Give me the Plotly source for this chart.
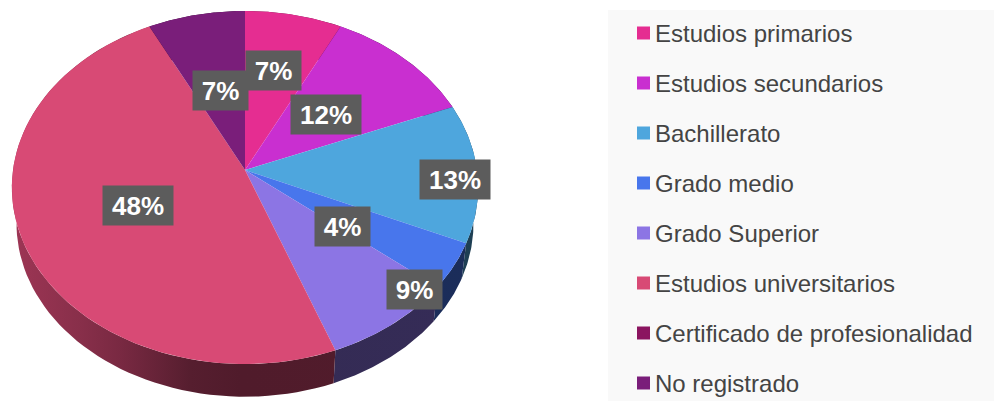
import numpy as np
import plotly.graph_objects as go

categories = ["Estudios primarios", "Estudios secundarios", "Bachillerato", "Grado medio",
              "Grado Superior", "Estudios universitarios", "Certificado de profesionalidad", "No registrado"]
values = [7.4, 11.5, 12.7, 4.2, 8.45, 48.35, 0.0, 7.4]
percent_labels = ["7%", "12%", "13%", "4%", "9%", "48%", "", "7%"]
colors = ["#E52D91", "#C92FD0", "#4EA6DD", "#4876EC", "#8C75E4", "#D84A75", "#8B1560", "#7A1E7A"]

# Perspective pie geometry (pixels, on hidden axes that span the page)
CX, CY, RX, RY, K = 245, 170, 232, 174.8, 0.099
BASE_SCALE, BASE_DROP = 0.98, 36.6
SHADE_X = [16, 80, 120, 190, 240, 480]
SHADE_F = [0.72, 0.63, 0.56, 0.40, 0.37, 0.38]
LABEL_CENTERS = [(273.5, 70.5), (326, 114.5), (455, 179.5), (342.5, 226.5),
                 (414.5, 289.5), (138, 205.5), None, (220.5, 90)]
KEY_X, KEY_TEXT_X, KEY_Y0, KEY_STEP = 643.5, 652.5, 33, 50


def rgb(h):
    return tuple(int(h[i:i + 2], 16) for i in (1, 3, 5))


def shaded(h, f):
    r, g, b = rgb(h)
    return f"rgb({r * f:.0f},{g * f:.0f},{b * f:.0f})"


def project(theta, scale=1.0, drop=0.0):
    u, v = np.sin(theta), -np.cos(theta)
    d = 1 - K * v
    return CX + scale * RX * u / d, CY + drop + scale * RY * v / d


fig = go.Figure()
fig.add_shape(type="rect", x0=608, x1=994, y0=10, y1=401, fillcolor="#F9F9F9", line_width=0, layer="below")

edges = np.cumsum([0] + values) / sum(values) * 2 * np.pi
span = SHADE_X[-1] - SHADE_X[0]

for i, c in enumerate(colors):
    if values[i] == 0:
        continue
    t = np.linspace(edges[i], edges[i + 1], 80)
    x1, y1 = project(t)
    x2, y2 = project(t[::-1], BASE_SCALE, BASE_DROP)
    scale = [[(x - SHADE_X[0]) / span, shaded(c, f)] for x, f in zip(SHADE_X, SHADE_F)]
    fig.add_trace(go.Scatter(x=np.r_[x1, x2], y=np.r_[y1, y2], mode="lines", fill="toself",
                             line=dict(width=0), showlegend=False, hoverinfo="skip",
                             fillgradient=dict(type="horizontal", colorscale=scale,
                                               start=SHADE_X[0], stop=SHADE_X[-1])))

for i, c in enumerate(colors):
    if values[i] == 0:
        continue
    t = np.linspace(edges[i], edges[i + 1], 80)
    x1, y1 = project(t)
    fig.add_trace(go.Scatter(x=np.r_[CX, x1], y=np.r_[CY, y1], mode="lines", fill="toself",
                             fillcolor=c, line=dict(width=0), showlegend=False, hoverinfo="skip"))

for i, (name, c) in enumerate(zip(categories, colors)):
    y = KEY_Y0 + KEY_STEP * i
    fig.add_trace(go.Scatter(x=[KEY_X], y=[y], mode="markers", name=name, showlegend=False, hoverinfo="name",
                             marker=dict(symbol="square", size=13, color=c, line_width=0)))
    fig.add_annotation(x=KEY_TEXT_X, y=y, text=name, showarrow=False, xanchor="left", yanchor="middle",
                       font=dict(family="Liberation Sans", size=24, color="#444444"))

for lab, pos in zip(percent_labels, LABEL_CENTERS):
    if pos is None:
        continue
    fig.add_annotation(x=pos[0], y=pos[1], text=f"<b>{lab}</b>", showarrow=False,
                       width=15 * len(lab) + 25, height=39, bgcolor="#5C5C5C", align="center",
                       valign="middle", borderpad=0,
                       font=dict(family="Liberation Sans", size=26, color="white"))

fig.update_layout(
    width=994, height=401, margin=dict(l=0, r=0, t=0, b=0), showlegend=False,
    paper_bgcolor="white", plot_bgcolor="white", font=dict(family="Liberation Sans"),
    xaxis=dict(range=[0, 994], visible=False, fixedrange=True),
    yaxis=dict(range=[401, 0], visible=False, fixedrange=True),
)
fig.write_html("out.html", config=dict(displayModeBar=False),
               post_script="document.body.style.margin='0';")
